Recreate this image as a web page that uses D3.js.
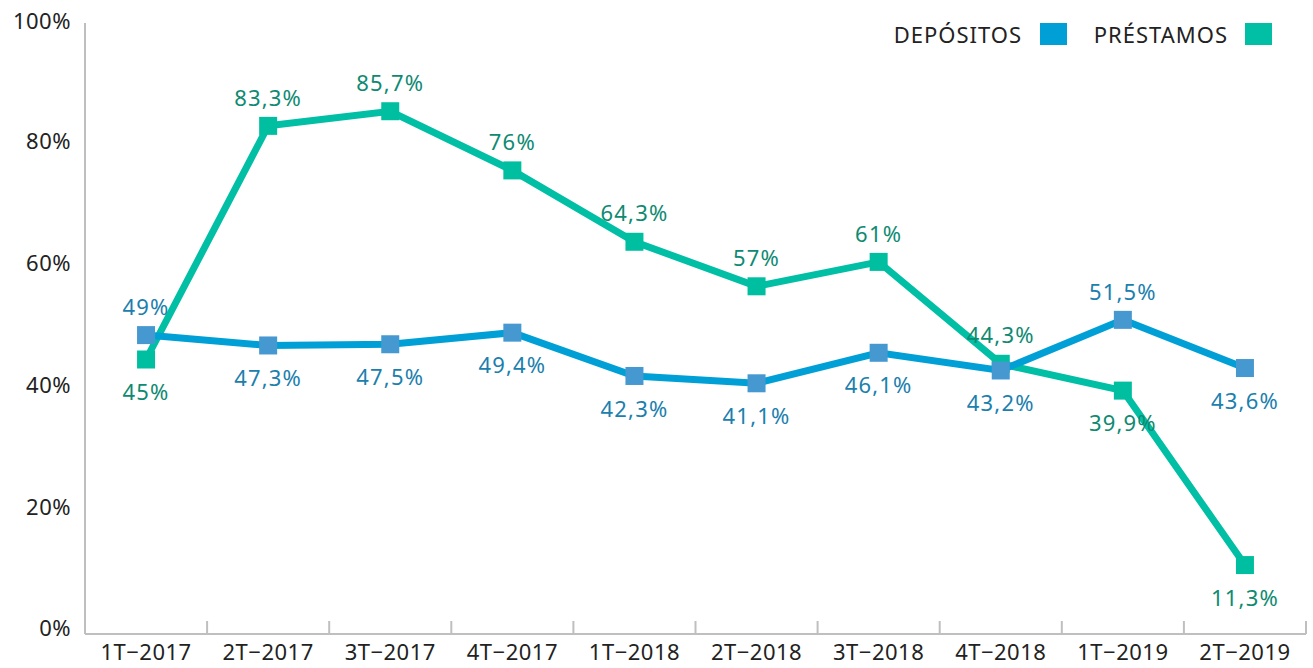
<html>
  <head>
    <script src="https://d3js.org/d3.v7.min.js"></script>
    <style>
      body { margin: 0; background: #fff; }
      text { font-family: "Noto Sans", sans-serif; }
      .axis path, .axis line { stroke: #bfbfbf; stroke-width: 2; }
      .axis text { fill: #222; font-size: 22px; letter-spacing: 0.5px; }
    </style>
  </head>
  <body>
    <svg id="chart" width="1313" height="668"></svg>
    <script>
      const quarters = ["1T−2017", "2T−2017", "3T−2017", "4T−2017", "1T−2018",
                        "2T−2018", "3T−2018", "4T−2018", "1T−2019", "2T−2019"];
      const depositos = [49, 47.3, 47.5, 49.4, 42.3, 41.1, 46.1, 43.2, 51.5, 43.6];
      const prestamos = [45, 83.3, 85.7, 76, 64.3, 57, 61, 44.3, 39.9, 11.3];
      const yTicks = [0, 20, 40, 60, 80, 100];
      // label above (-1) or below (+1) the point
      const depPos = [-1, 1, 1, 1, 1, 1, 1, 1, -1, 1];
      const presPos = [1, -1, -1, -1, -1, -1, -1, -1, 1, 1];

      const svg = d3.select("#chart");
      const plotLeft = 85, plotRight = 1306, plotTop = 24, plotBottom = 634;

      const x = d3.scaleBand().domain(quarters).range([plotLeft, plotRight]);
      const y = d3.scaleLinear().domain([0, 100]).range([plotBottom, plotTop]);

      // axes
      const yAxis = svg.append("g").attr("class", "axis")
        .attr("transform", `translate(${plotLeft},0)`)
        .call(d3.axisLeft(y).tickValues(yTicks).tickSize(0).tickPadding(14)
          .tickFormat(d => d + "%"));
      yAxis.select(".domain").attr("d", `M0,${plotTop - 1}V${plotBottom}`);
      yAxis.selectAll("text").attr("dy", "0.1em");
      yAxis.selectAll(".tick").filter(d => d === 0).select("text").attr("dy", "0.05em");
      yAxis.selectAll(".tick").filter(d => d === 100).select("text").attr("dy", "0.2em");

      const xAxis = svg.append("g").attr("class", "axis")
        .attr("transform", `translate(0,${plotBottom})`)
        .call(d3.axisBottom(x).tickSize(0).tickPadding(10));
      xAxis.select(".domain").attr("d", `M${plotLeft},0H${plotRight}`);
      xAxis.selectAll("text").attr("dy", "0.72em");
      // tick marks between categories, pointing up
      const edges = quarters.map(q => x(q)).concat([plotRight]);
      xAxis.selectAll("line.sep").data(edges).join("line").attr("class", "sep")
        .attr("x1", d => d).attr("x2", d => d).attr("y1", 0).attr("y2", -13);

      const cx = (d, i) => x(quarters[i]) + x.bandwidth() / 2;
      const line = d3.line().x(cx).y(d => y(d));

      const fmt = v => String(v).replace(".", ",") + "%";

      function drawSeries(vals, lineColor, markColor) {
        const g = svg.append("g");
        g.append("path").attr("d", line(vals)).attr("fill", "none")
          .attr("stroke", lineColor).attr("stroke-width", 7)
          .attr("stroke-linejoin", "miter");
        g.selectAll("rect").data(vals).join("rect")
          .attr("x", (d, i) => cx(d, i) - 9).attr("y", d => y(d) - 9)
          .attr("width", 18).attr("height", 18).attr("fill", markColor);
        return g;
      }

      function drawLabels(vals, color, pos) {
        svg.append("g").selectAll("text").data(vals).join("text")
          .attr("x", (d, i) => cx(d, i))
          .attr("y", (d, i) => y(d) + (pos[i] < 0 ? -28 : 33))
          .attr("dy", "0.35em")
          .attr("text-anchor", "middle")
          .attr("fill", color).attr("font-size", 22)
          .attr("letter-spacing", "1.2px")
          .text(fmt);
      }

      drawSeries(prestamos, "#00bfa5", "#00bfa0");
      drawSeries(depositos, "#00a0d6", "#4699d0");
      drawLabels(prestamos, "#0e8a72", presPos);
      drawLabels(depositos, "#1b80ad", depPos);

      // legend
      const legend = [
        { name: "DEPÓSITOS", color: "#00a0d6", tx: 1022, sx: 1040 },
        { name: "PRÉSTAMOS", color: "#00bfa5", tx: 1228, sx: 1245 }
      ];
      const lg = svg.append("g");
      lg.selectAll("text").data(legend).join("text")
        .attr("x", d => d.tx).attr("y", 43).attr("text-anchor", "end")
        .attr("font-size", 22).attr("fill", "#222").attr("letter-spacing", "1px")
        .text(d => d.name);
      lg.selectAll("rect").data(legend).join("rect")
        .attr("x", d => d.sx).attr("y", 23).attr("width", 27).attr("height", 22)
        .attr("fill", d => d.color);
    </script>
  </body>
</html>
